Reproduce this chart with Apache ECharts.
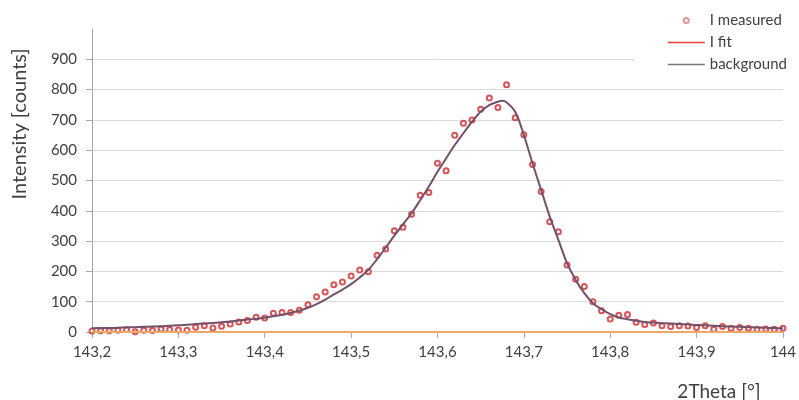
<!DOCTYPE html>
<html>
<head>
<meta charset="utf-8">
<script src="https://cdn.jsdelivr.net/npm/echarts@6/dist/echarts.min.js"></script>
<style>
html,body{margin:0;padding:0;background:#fff;}
#chart{width:799px;height:400px;}
</style>
</head>
<body>
<div id="chart"></div>
<script>
// 2Theta positions of the measured points
var measuredTheta = [
  143.20,143.21,143.22,143.23,143.24,143.25,143.26,143.27,143.28,143.29,
  143.30,143.31,143.32,143.33,143.34,143.35,143.36,143.37,143.38,143.39,
  143.40,143.41,143.42,143.43,143.44,143.45,143.46,143.47,143.48,143.49,
  143.50,143.51,143.52,143.53,143.54,143.55,143.56,143.57,143.58,143.59,
  143.60,143.61,143.62,143.63,143.64,143.65,143.66,143.67,143.68,143.69,
  143.70,143.71,143.72,143.73,143.74,143.75,143.76,143.77,143.78,143.79,
  143.80,143.81,143.82,143.83,143.84,143.85,143.86,143.87,143.88,143.89,
  143.90,143.91,143.92,143.93,143.94,143.95,143.96,143.97,143.98,143.99,
  144.00
];
// I measured
var measuredValues = [
  3,4,4,6,8,1,6,5,10,8,
  7,6,16,21,13,19,26,33,38,49,
  46,62,64,64,72,90,116,132,156,165,
  185,205,199,253,274,334,346,389,451,460,
  557,532,649,689,700,735,772,741,816,707,
  651,553,464,364,331,221,174,150,100,70,
  43,55,58,32,25,30,21,18,21,20,
  15,21,9,18,12,15,12,9,10,9,
  12
];
// I fit curve
var fitTheta = [
  143.20,143.21,143.22,143.23,143.24,143.25,143.26,143.27,143.28,143.29,
  143.30,143.31,143.32,143.33,143.34,143.35,143.36,143.37,143.38,143.39,
  143.40,143.41,143.42,143.43,143.44,143.45,143.46,143.47,143.48,143.49,
  143.50,143.51,143.52,143.53,143.54,143.55,143.56,143.57,143.58,143.59,
  143.60,143.61,143.62,143.63,143.64,143.65,143.66,143.67,143.675,143.68,143.69,
  143.70,143.71,143.72,143.73,143.74,143.75,143.76,143.77,143.78,143.79,
  143.80,143.81,143.82,143.83,143.84,143.85,143.86,143.87,143.88,143.89,
  143.90,143.91,143.92,143.93,143.94,143.95,143.96,143.97,143.98,143.99,
  144.00
];
var fitValues = [
  12,13,13,14,15,16,17,18,19,21,
  22,24,26,28,30,32,35,38,41,44,
  47,52,57,63,70,80,92,107,124,140,
  158,180,205,240,278,318,355,392,435,480,
  529,573,617,656,694,727,749,760,763,758,727,
  650,557,469,381,304,227,172,128,95,75,
  59,48,42,37,33,31,29,28,26,25,
  23,22,21,19,18,17,16,15,14,13,
  12
];
// background
var bgTheta = [143.2, 144.0];
var bgValues = [0, 0];

var xTicks = { min: 143.2, max: 144.0, interval: 0.1 };
var yTicks = { min: 0, max: 1000, interval: 100 };

function pairs(xs, ys){ var out=[]; for (var i=0;i<xs.length;i++) out.push([xs[i], ys[i]]); return out; }

var FONT = 'Lato';
var TXT = '#404040';

var chart = echarts.init(document.getElementById('chart'), null, {renderer:'canvas'});
chart.setOption({
  animation: false,
  backgroundColor: '#ffffff',
  textStyle: { fontFamily: FONT },
  grid: { left: 92, right: 15, top: 29, bottom: 68, containLabel: false },
  legend: {
    orient: 'vertical',
    left: 634, top: 5,
    padding: [8, 10, 8, 33],
    backgroundColor: '#ffffff',
    itemGap: 7,
    itemWidth: 37,
    itemHeight: 5,
    textStyle: { fontFamily: FONT, fontSize: 15, color: TXT },
    data: [
      { name: 'I measured', icon: 'emptyCircle', itemStyle: { color: '#e07888', borderColor: '#e07888', borderWidth: 1.2 } },
      { name: 'I fit', itemStyle: { color: 'rgba(0,0,0,0)', borderColor: 'rgba(0,0,0,0)', borderWidth: 0, opacity: 0 }, lineStyle: { color: '#e8403a', width: 1.5, opacity: 1 } },
      { name: 'background', itemStyle: { color: 'rgba(0,0,0,0)', borderColor: 'rgba(0,0,0,0)', borderWidth: 0, opacity: 0 }, lineStyle: { color: '#7a7a7a', width: 1.5, opacity: 1 } }
    ]
  },
  xAxis: {
    type: 'value',
    min: xTicks.min, max: xTicks.max, interval: xTicks.interval,
    axisLine: { show: true, lineStyle: { color: '#a6a6a6', width: 1 } },
    axisTick: { show: true, inside: false, length: 6, lineStyle: { color: '#a6a6a6' } },
    splitLine: { show: false },
    axisLabel: {
      margin: 13, fontFamily: FONT, fontSize: 15, color: TXT,
      formatter: function(v){ return String(+v.toFixed(1)).replace('.', ','); }
    }
  },
  yAxis: {
    type: 'value',
    min: yTicks.min, max: yTicks.max, interval: yTicks.interval,
    axisLine: { show: true, lineStyle: { color: '#a6a6a6', width: 1 } },
    axisTick: { show: true, inside: false, length: 6, lineStyle: { color: '#a6a6a6' } },
    splitLine: { show: true, showMaxLine: false, lineStyle: { color: '#d9d9d9', width: 1 } },
    axisLabel: { margin: 15, fontFamily: FONT, fontSize: 15, color: TXT, showMaxLabel: false }
  },
  graphic: [
    { type: 'text', x: 20, y: 124, rotation: Math.PI/2,
      style: { text: 'Intensity [counts]', fontFamily: FONT, fontSize: 20, fill: TXT, align: 'center', verticalAlign: 'middle' } },
    { type: 'text', x: 719, y: 392,
      style: { text: '2Theta [°]', fontFamily: FONT, fontSize: 19, fill: TXT, align: 'center', verticalAlign: 'middle' } }
  ],
  series: [
    {
      name: 'I measured', type: 'scatter',
      data: pairs(measuredTheta, measuredValues),
      symbol: 'emptyCircle', symbolSize: 5,
      itemStyle: { color: '#cc2a2e', borderColor: '#cc2a2e', borderWidth: 2 },
      z: 2
    },
    {
      name: 'I fit', type: 'line',
      data: pairs(fitTheta, fitValues),
      symbol: 'none', smooth: 0.35,
      lineStyle: { color: '#74506a', width: 2 },
      itemStyle: { color: '#74506a' },
      z: 3
    },
    {
      name: 'background', type: 'line',
      data: pairs(bgTheta, bgValues),
      symbol: 'none',
      lineStyle: { color: '#eea865', width: 2 },
      itemStyle: { color: '#eea865' },
      z: 4
    }
  ]
});
</script>
</body>
</html>
